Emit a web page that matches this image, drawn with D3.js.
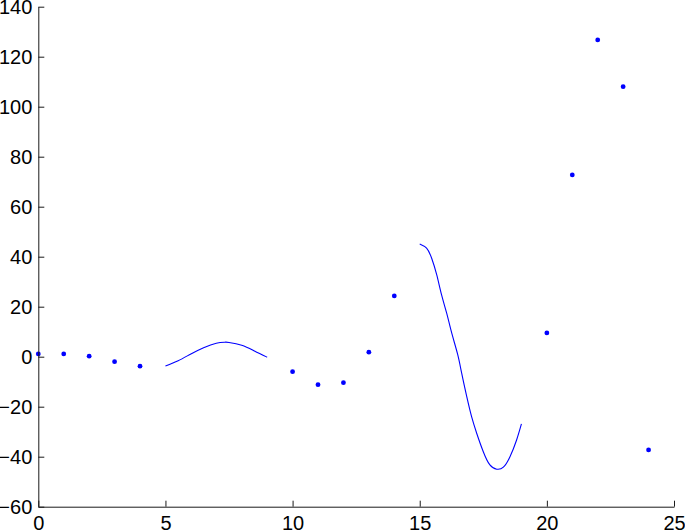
<!DOCTYPE html>
<html>
<head>
<meta charset="utf-8">
<script src="https://cdn.jsdelivr.net/npm/d3@7"></script>
<style>
  body { margin: 0; background: #fff; }
  svg { display: block; }
  .tick text { font-family: "Liberation Sans", Arial, Helvetica, sans-serif; font-size: 20px; fill: #000; }
</style>
</head>
<body>
<svg id="canvas"></svg>
<script>
// sampled points (integer x)
let dotX = [0, 1, 2, 3, 4, 10, 11, 12, 13, 14, 20, 21, 22, 23, 24]
let dotY = [1.1, 1.1, 0.2, -2, -3.8, -6, -11.2, -10.4, 1.8, 24.3, 9.5, 72.7, 126.7, 108, -37.3]

// first curve, x 5..9
let curve1X = [5, 5.5, 6, 6.5, 7, 7.34, 7.5, 8, 8.5, 9]
let curve1Y = [-3.7, -1.6, 1.1, 3.6, 5.4, 5.8, 5.7, 4.6, 2.3, -0.2]

// second curve, x 15..19
let curve2X = [15, 15.27, 15.47, 15.67, 15.86, 16.06, 16.26, 16.49, 16.65, 16.85, 17.04, 17.24, 17.5, 17.76, 18.03, 18.29, 18.55, 18.81, 19]
let curve2Y = [45.1, 43.4, 39.4, 32.7, 24.7, 17.4, 9.4, 1.0, -6.6, -16.0, -24.0, -30.6, -38.0, -43.3, -45.0, -44.2, -40.0, -33.3, -26.9]

let xTicks = [0, 5, 10, 15, 20, 25]
let yTicks = [-60, -40, -20, 0, 20, 40, 60, 80, 100, 120, 140]

let width = 685
let height = 531
let margin = {top: 6.7, right: 11, bottom: 24.3, left: 38.3}

let svg = d3.select('#canvas')
            .attr('width', width)
            .attr('height', height)

let xScale = d3.scaleLinear()
               .domain([0, 25])
               .range([margin.left, width - margin.right])

let yScale = d3.scaleLinear()
               .domain([-60, 140])
               .range([height - margin.bottom, margin.top])

let line = d3.line()
             .x(d => xScale(d[0]))
             .y(d => yScale(d[1]))
             .curve(d3.curveNatural)

let drawCurve = (xs, ys) => {
    svg.append('path')
       .datum(xs.map((x, i) => [x, ys[i]]))
       .attr('d', line)
       .attr('fill', 'none')
       .attr('stroke', '#0000ff')
       .attr('stroke-width', 1.1)
}

drawCurve(curve1X, curve1Y)
drawCurve(curve2X, curve2Y)

svg.selectAll('circle.dot')
   .data(dotX.map((x, i) => [x, dotY[i]]))
   .enter()
   .append('circle')
   .attr('class', 'dot')
   .attr('cx', d => xScale(d[0]))
   .attr('cy', d => yScale(d[1]))
   .attr('r', 2.4)
   .attr('fill', '#0000ff')

// axes: ticks point inward like matlab
let xAxis = d3.axisBottom(xScale)
              .tickValues(xTicks)
              .tickFormat(d3.format('d'))
              .tickSizeInner(-6)
              .tickSizeOuter(0)
              .tickPadding(9)

let yAxis = d3.axisLeft(yScale)
              .tickValues(yTicks)
              .tickFormat(d3.format('d'))
              .tickSizeInner(-6)
              .tickSizeOuter(0)
              .tickPadding(6)

let gx = svg.append('g')
   .attr('transform', `translate(0,${height - margin.bottom})`)
   .call(xAxis)

let gy = svg.append('g')
   .attr('transform', `translate(${margin.left},0)`)
   .call(yAxis)

gx.selectAll('text').attr('dy', '0.71em')
gy.selectAll('text').attr('dy', '0.36em')

svg.selectAll('.domain, .tick line')
   .attr('stroke', '#1a1a1a')
   .attr('stroke-width', 1)
</script>
</body>
</html>
